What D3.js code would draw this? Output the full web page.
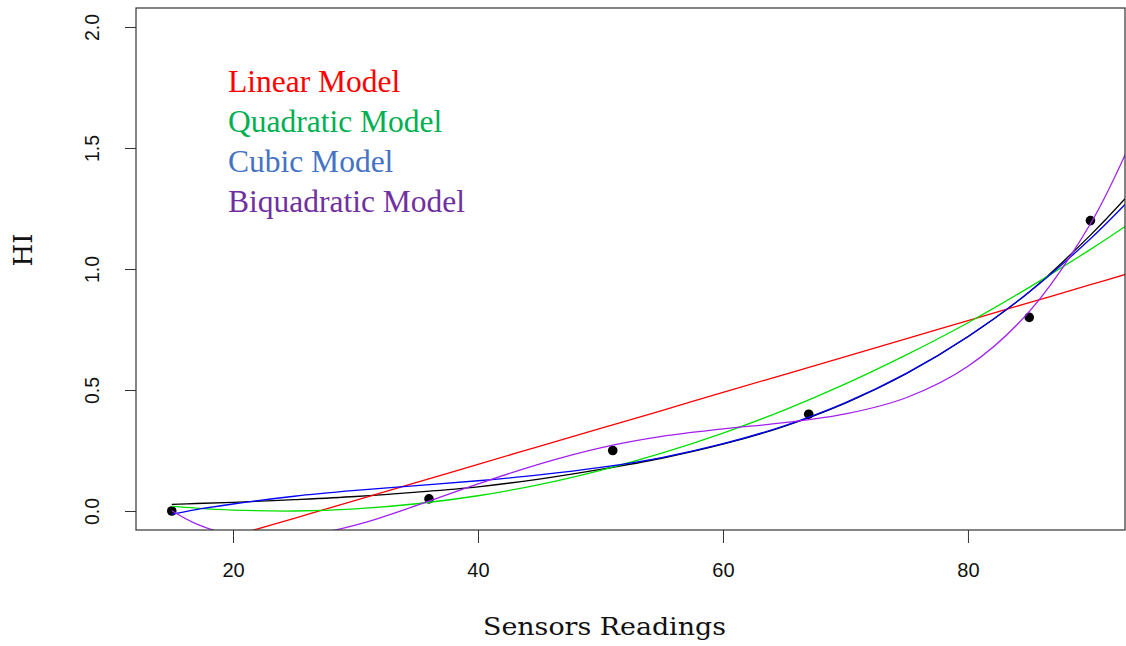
<!DOCTYPE html>
<html>
<head>
<meta charset="utf-8">
<script src="https://cdn.jsdelivr.net/npm/d3@7"></script>
<style>
  body { margin: 0; background: #fff; }
  svg { display: block; }
</style>
</head>
<body>
<script>
const width = 1126;
const height = 646;

// observed readings
const readingsX = [15, 36, 51, 67, 85, 90];
const readingsHI = [0, 0.05, 0.25, 0.4, 0.8, 1.2];

// fitted curves at these x positions
const gridX = [15, 17, 20, 25, 30, 35, 40, 45, 50, 55, 60, 65, 70, 75, 80, 85, 90, 93];
const linearY = [-0.179, -0.149, -0.104, -0.030, 0.044, 0.118, 0.193, 0.267, 0.341, 0.415, 0.490, 0.564, 0.638, 0.712, 0.787, 0.861, 0.935, 0.980];
const quadraticY = [0.020, 0.012, 0.004, 0.000, 0.009, 0.030, 0.063, 0.109, 0.168, 0.239, 0.322, 0.417, 0.525, 0.646, 0.778, 0.924, 1.081, 1.182];
const cubicY = [-0.013, 0.006, 0.029, 0.061, 0.085, 0.105, 0.125, 0.149, 0.180, 0.221, 0.278, 0.352, 0.448, 0.570, 0.721, 0.905, 1.125, 1.276];
const biquadraticY = [0.001, -0.053, -0.100, -0.108, -0.058, 0.023, 0.112, 0.194, 0.261, 0.308, 0.339, 0.365, 0.401, 0.469, 0.598, 0.824, 1.187, 1.491];
const smoothY = [0.027, 0.031, 0.036, 0.047, 0.060, 0.078, 0.100, 0.132, 0.172, 0.218, 0.276, 0.350, 0.446, 0.568, 0.720, 0.905, 1.140, 1.300];

const xTicks = [20, 40, 60, 80];
const yTicks = [0, 0.5, 1, 1.5, 2];

const legendNames = ["Linear Model", "Quadratic Model", "Cubic Model", "Biquadratic Model"];
const legendColors = ["#ff0000", "#00b050", "#4472c4", "#7030a0"];

const series = [
  { name: "smooth", values: smoothY, color: "#000000" },
  { name: "linear", values: linearY, color: "#ff0000" },
  { name: "quadratic", values: quadraticY, color: "#00e000" },
  { name: "cubic", values: cubicY, color: "#0000ff" },
  { name: "biquadratic", values: biquadraticY, color: "#a020f0" }
];

const plotLeft = 136, plotRight = 1125, plotTop = 8, plotBottom = 530;

const x = d3.scaleLinear().domain([12.08, 92.82]).range([plotLeft, plotRight]);
const y = d3.scaleLinear().domain([-0.0785, 2.0785]).range([plotBottom, plotTop]);

const svg = d3.select("body")
  .append("svg")
  .attr("width", width)
  .attr("height", height);

svg.append("defs").append("clipPath")
  .attr("id", "plot-clip")
  .append("rect")
  .attr("x", plotLeft)
  .attr("y", plotTop)
  .attr("width", plotRight - plotLeft)
  .attr("height", plotBottom - plotTop);

const plot = svg.append("g").attr("clip-path", "url(#plot-clip)");

plot.append("g")
  .selectAll("circle")
  .data(readingsX)
  .join("circle")
  .attr("cx", d => x(d))
  .attr("cy", (d, i) => y(readingsHI[i]))
  .attr("r", 4.8)
  .attr("fill", "#000");

const line = d3.line()
  .x((d, i) => x(gridX[i]))
  .y(d => y(d))
  .curve(d3.curveCatmullRom);

plot.append("g")
  .selectAll("path")
  .data(series)
  .join("path")
  .attr("d", d => line(d.values))
  .attr("fill", "none")
  .attr("stroke", d => d.color)
  .attr("stroke-width", 1.3);

// frame
svg.append("rect")
  .attr("x", plotLeft)
  .attr("y", plotTop)
  .attr("width", plotRight - plotLeft)
  .attr("height", plotBottom - plotTop)
  .attr("fill", "none")
  .attr("stroke", "#333")
  .attr("stroke-width", 1.2);

const xAxis = svg.append("g")
  .attr("transform", `translate(0,${plotBottom})`)
  .call(d3.axisBottom(x).tickValues(xTicks).tickSize(13).tickSizeOuter(0).tickPadding(20));
xAxis.select(".domain").remove();
xAxis.selectAll("line").attr("stroke", "#333");
xAxis.selectAll("text")
  .attr("font-family", "Liberation Sans, Arial, sans-serif")
  .attr("font-size", 20)
  .attr("fill", "#111");

const yAxis = svg.append("g")
  .attr("transform", `translate(${plotLeft},0)`)
  .call(d3.axisLeft(y).tickValues(yTicks).tickFormat(d3.format(".1f")).tickSize(11).tickSizeOuter(0));
yAxis.select(".domain").remove();
yAxis.selectAll("line").attr("stroke", "#333");
yAxis.selectAll("text")
  .attr("x", null)
  .attr("dy", null)
  .attr("transform", "translate(-37,0) rotate(-90)")
  .attr("text-anchor", "middle")
  .attr("font-family", "Liberation Sans, Arial, sans-serif")
  .attr("font-size", 19.5)
  .attr("fill", "#111");

svg.append("text")
  .attr("x", 604.5)
  .attr("y", 635)
  .attr("text-anchor", "middle")
  .attr("font-family", "DejaVu Serif, serif")
  .attr("font-size", 25)
  .attr("textLength", 243)
  .attr("lengthAdjust", "spacingAndGlyphs")
  .attr("fill", "#111")
  .text("Sensors Readings");

svg.append("text")
  .attr("transform", "translate(32,250) rotate(-90)")
  .attr("text-anchor", "middle")
  .attr("font-family", "DejaVu Serif, serif")
  .attr("font-size", 26)
  .attr("fill", "#111")
  .text("HI");

svg.append("g")
  .selectAll("text")
  .data(legendNames)
  .join("text")
  .attr("x", 228)
  .attr("y", (d, i) => 91.5 + i * 40)
  .attr("font-family", "Liberation Serif, serif")
  .attr("font-size", 31.5)
  .attr("fill", (d, i) => legendColors[i])
  .text(d => d);
</script>
</body>
</html>
